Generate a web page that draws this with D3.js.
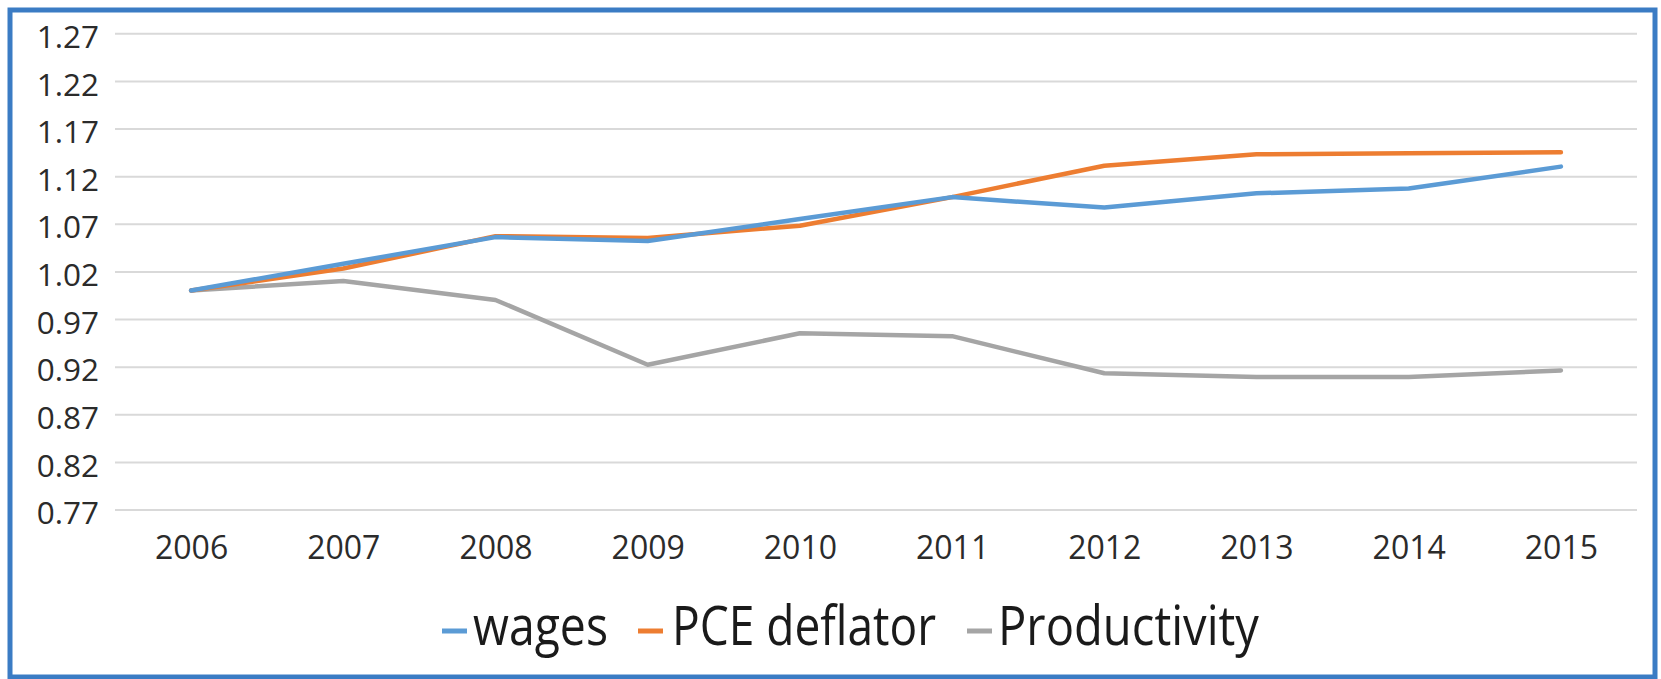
<!DOCTYPE html>
<html>
<head>
<meta charset="utf-8">
<script src="https://cdn.jsdelivr.net/npm/d3@7"></script>
<style>
  html, body { margin: 0; padding: 0; background: #ffffff; }
  svg { display: block; }
  text { font-family: "Open Sans", "Noto Sans", sans-serif; }
</style>
</head>
<body>
<svg id="chart" width="1661" height="679"></svg>
<script>
// ---- data ----
const years = ["2006","2007","2008","2009","2010","2011","2012","2013","2014","2015"];
const wages        = [1.000, 1.028, 1.056, 1.052, 1.075, 1.098, 1.087, 1.102, 1.107, 1.130];
const pceDeflator  = [1.000, 1.023, 1.057, 1.055, 1.068, 1.098, 1.131, 1.143, 1.144, 1.145];
const productivity = [1.000, 1.010, 0.990, 0.922, 0.955, 0.952, 0.913, 0.909, 0.909, 0.916];
const yTicks = [0.77, 0.82, 0.87, 0.92, 0.97, 1.02, 1.07, 1.12, 1.17, 1.22, 1.27];
const seriesNames = ["wages", "PCE deflator", "Productivity"];

(function () {
const colors = ["#5B9BD5", "#ED7D31", "#A5A5A5"];
const series = [wages, pceDeflator, productivity].map((vals, i) => ({
  name: seriesNames[i], color: colors[i],
  points: years.map((yr, j) => ({ year: yr, value: vals[j] }))
}));

const svg = d3.select("#chart");

// frame
svg.append("rect")
  .attr("x", 10).attr("y", 10).attr("width", 1645).attr("height", 667)
  .attr("fill", "#ffffff").attr("stroke", "#3B7CC4").attr("stroke-width", 5);

const pLeft = 115, pRight = 1637, pTop = 33.3, pBottom = 509.5;

const x = d3.scalePoint().domain(years).range([pLeft, pRight]).padding(0.5);
const y = d3.scaleLinear().domain([0.77, 1.27]).range([pBottom, pTop]);

// gridlines
svg.append("g")
  .attr("transform", `translate(${pLeft},0)`)
  .call(d3.axisLeft(y).tickValues(yTicks).tickSize(-(pRight - pLeft)).tickFormat(""))
  .call(g => g.select(".domain").remove())
  .call(g => g.selectAll(".tick line").attr("stroke", "#D9D9D9").attr("stroke-width", 2));

// y labels
svg.append("g")
  .attr("transform", `translate(${pLeft},0)`)
  .call(d3.axisLeft(y).tickValues(yTicks).tickSize(0).tickPadding(16).tickFormat(d3.format(".2f")))
  .call(g => g.select(".domain").remove())
  .call(g => g.selectAll(".tick text")
    .attr("fill", "#2b2b2b").attr("dy", "0.45em")
    .style("font-size", "31.5px"));

// x labels
svg.append("g")
  .attr("transform", `translate(0,${pBottom})`)
  .call(d3.axisBottom(x).tickSize(0))
  .call(g => g.select(".domain").remove())
  .call(g => g.selectAll(".tick text")
    .attr("fill", "#2b2b2b").attr("y", 49.5).attr("dy", 0)
    .style("font-size", "32px"));

// lines
const line = d3.line().x(d => x(d.year)).y(d => y(d.value));
svg.append("g").selectAll("path")
  .data(series.slice().reverse())
  .join("path")
  .attr("d", d => line(d.points))
  .attr("fill", "none")
  .attr("stroke", d => d.color)
  .attr("stroke-width", 4.5)
  .attr("stroke-linejoin", "round")
  .attr("stroke-linecap", "round");

// legend
const legendLayout = [
  { dash: 442, text: 473, len: 135 },
  { dash: 638, text: 672, len: 264 },
  { dash: 967, text: 998, len: 261 }
];
const legendY = 631;
const lg = svg.append("g");
series.forEach((s, i) => {
  const L = legendLayout[i];
  lg.append("line")
    .attr("x1", L.dash).attr("x2", L.dash + 25)
    .attr("y1", legendY).attr("y2", legendY)
    .attr("stroke", s.color).attr("stroke-width", 5);
  lg.append("text")
    .attr("x", L.text).attr("y", 645)
    .attr("textLength", L.len).attr("lengthAdjust", "spacingAndGlyphs")
    .attr("fill", "#1a1a1a")
    .style("font-size", "55px")
    .text(s.name);
});
})();
</script>
</body>
</html>
